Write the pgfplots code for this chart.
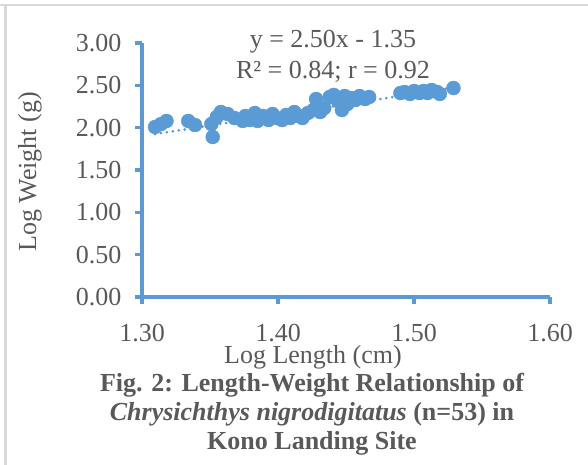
\documentclass[border=0pt]{standalone}
\usepackage{fontspec}
\setmainfont{Liberation Serif}
\usepackage{pgfplots}
\pgfplotsset{compat=1.18}
\definecolor{exblue}{HTML}{5B9BD5}
\definecolor{txtgray}{HTML}{595959}
\definecolor{framegray}{HTML}{D9D9D9}
\begin{document}
\begin{tikzpicture}[x=1pt,y=1pt]
\path[use as bounding box] (0,0) rectangle (588,465);
\draw[framegray, line width=2.5pt] (0,460) -- (588,460);
\draw[framegray, line width=2.5pt] (5.5,0) -- (5.5,460);
\begin{axis}[
  at={(142pt,168pt)}, anchor=south west,
  scale only axis, width=408pt, height=254pt,
  xmin=1.3, xmax=1.6, ymin=0, ymax=3,
  xtick={1.3,1.4,1.5,1.6},
  ytick={0,0.5,1,1.5,2,2.5,3},
  axis lines*=left,
  axis line style={exblue, line width=3.2pt},
  tick align=outside,
  major tick length=7pt,
  tick style={exblue, line width=3.2pt},
  ticklabel style={font=\fontsize{26}{30}\selectfont, text=txtgray},
  /pgf/number format/.cd, fixed, fixed zerofill, precision=2, assume math mode=true,
  /pgfplots/.cd,
  xticklabel style={yshift=-17pt},
  yticklabel style={xshift=-10pt},
  xlabel={Log Length (cm)},
  xlabel style={at={(axis description cs:0.419,-0.238)}, anchor=center, font=\fontsize{26}{30}\selectfont, text=txtgray},
  ylabel={Log Weight (g)},
  ylabel style={at={(axis description cs:-0.2745,0.492)}, anchor=center, font=\fontsize{26}{30}\selectfont, text=txtgray},
  clip=false,
]
\addplot[only marks, mark=*, mark size=7pt, color=exblue, mark options={fill=exblue, draw=exblue}] coordinates {
(1.3096,2.008) (1.314,2.043) (1.318,2.079) (1.334,2.079) (1.339,2.031)
(1.352,1.890) (1.351,2.043) (1.355,2.126) (1.358,2.185) (1.363,2.161)
(1.368,2.114) (1.374,2.079) (1.376,2.138) (1.379,2.090) (1.383,2.173)
(1.385,2.079) (1.389,2.138) (1.393,2.090) (1.396,2.161) (1.399,2.114)
(1.403,2.090) (1.406,2.150) (1.409,2.114) (1.412,2.185) (1.415,2.138)
(1.418,2.114) (1.422,2.173) (1.426,2.209) (1.428,2.338) (1.431,2.185)
(1.434,2.232) (1.438,2.362) (1.441,2.386) (1.444,2.315) (1.447,2.209)
(1.449,2.374) (1.451,2.279) (1.454,2.350) (1.457,2.327) (1.460,2.374)
(1.464,2.338) (1.467,2.362) (1.490,2.409) (1.493,2.421) (1.497,2.398)
(1.500,2.433) (1.504,2.409) (1.507,2.433) (1.510,2.409) (1.513,2.445)
(1.517,2.421) (1.519,2.398) (1.529,2.468)
};
\addplot[exblue, line width=3pt, line cap=round, dash pattern=on 0pt off 6pt] coordinates {
(1.3096,1.924) (1.529,2.4725)
};
\node[font=\fontsize{26}{30}\selectfont, text=txtgray] at (axis description cs:0.468,1.004) {y = 2.50x - 1.35};
\node[font=\fontsize{26}{30}\selectfont, text=txtgray] at (axis description cs:0.468,0.886) {R² = 0.84; r = 0.92};
\end{axis}
\node[align=center, font=\fontsize{26}{29}\selectfont\bfseries, text=txtgray] at (312,51) {Fig. 2: Length-Weight Relationship of\\\textit{Chrysichthys nigrodigitatus} (n=53) in\\Kono Landing Site};
\end{tikzpicture}
\end{document}
